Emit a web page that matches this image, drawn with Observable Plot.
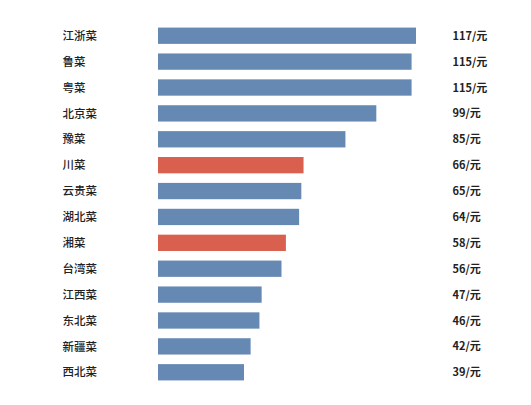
<!DOCTYPE html>
<html>
<head>
<meta charset="utf-8">
<script src="https://cdn.jsdelivr.net/npm/d3@7"></script>
<script src="https://cdn.jsdelivr.net/npm/@observablehq/plot@0.6"></script>
<style>
html, body { margin: 0; padding: 0; background: #fff; }
</style>
</head>
<body>
<div id="chart"></div>
<script>
const categories = ["江浙菜","鲁菜","粤菜","北京菜","豫菜","川菜","云贵菜","湖北菜","湘菜","台湾菜","江西菜","东北菜","新疆菜","西北菜"];
const prices = [117,115,115,99,85,66,65,64,58,56,47,46,42,39];
const highlighted = ["川菜","湘菜"];

const data = categories.map((c, i) => ({cat: c, value: prices[i], hi: highlighted.includes(c)}));

const chart = Plot.plot({
  width: 531,
  height: 405,
  marginLeft: 158,
  marginRight: 115,
  marginTop: 18,
  marginBottom: 15,
  style: {fontFamily: "'Noto Sans CJK SC', 'Noto Sans', sans-serif", background: "#fff"},
  x: {domain: [0, 117], axis: null},
  y: {domain: categories, axis: null, paddingInner: 0.37, paddingOuter: 0.37, round: false},
  marks: [
    Plot.barX(data, {y: "cat", x: "value", fill: d => d.hi ? "#d9604f" : "#6689b3"}),
    Plot.text(data, {y: "cat", text: "cat", frameAnchor: "left", dx: -96, textAnchor: "start", fontSize: 11.5, fill: "#222", fontWeight: 500}),
    Plot.text(data, {y: "cat", text: d => d.value + "/元", frameAnchor: "right", dx: 36, textAnchor: "start", fontSize: 11, fill: "#222", fontWeight: 600})
  ]
});
document.getElementById("chart").appendChild(chart);
</script>
</body>
</html>
